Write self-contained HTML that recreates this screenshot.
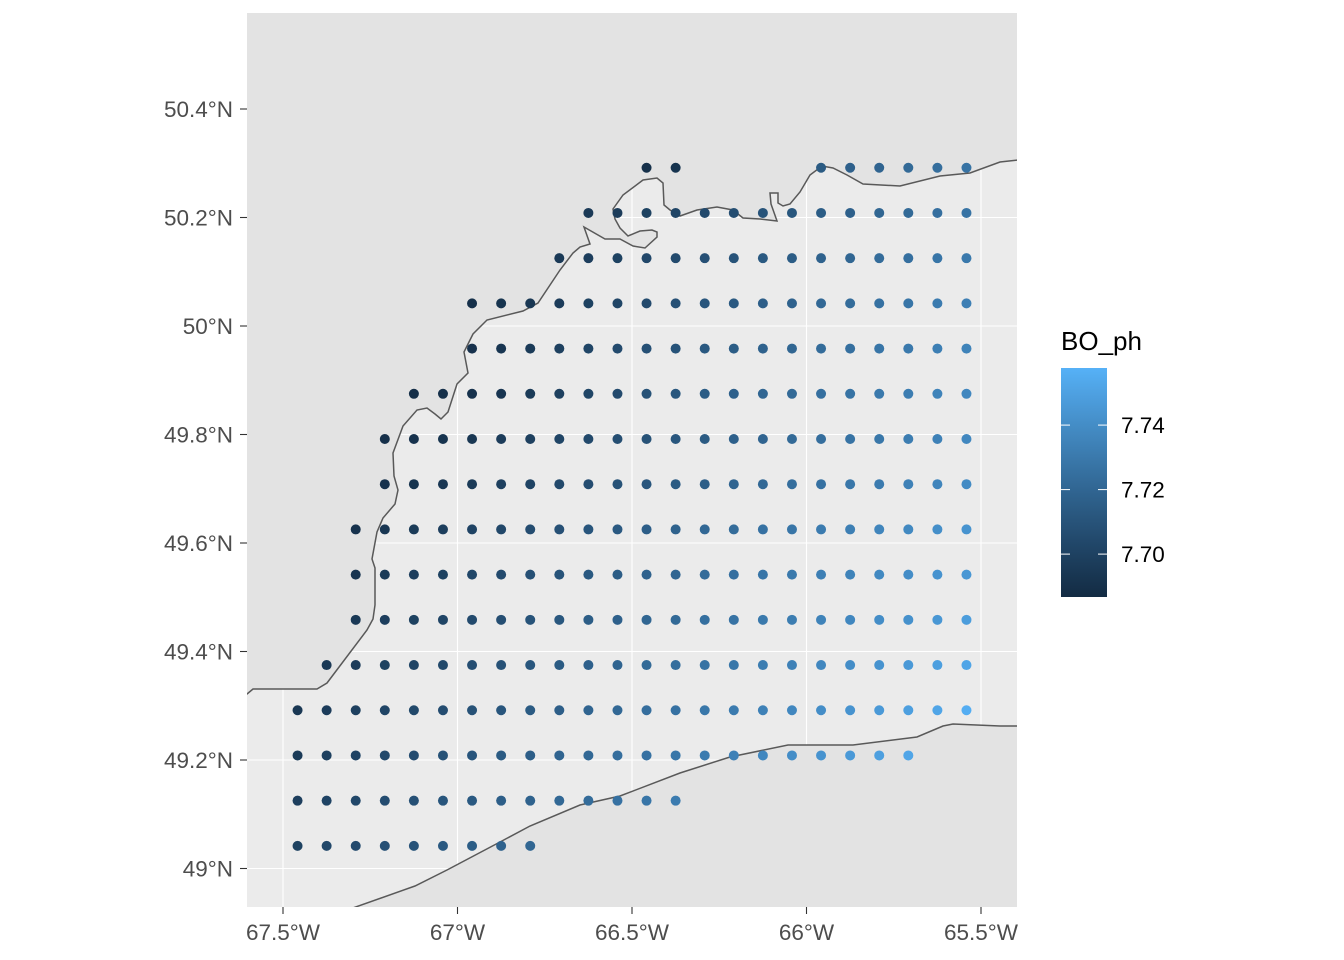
<!DOCTYPE html>
<html><head><meta charset="utf-8">
<style>
body{margin:0;background:#fff;}
svg{display:block;font-family:"Liberation Sans",Arial,sans-serif;}
</style></head>
<body>
<svg id="chart" width="1344" height="960">
  <defs>
    <clipPath id="pclip"><rect x="247" y="13" width="770" height="894"/></clipPath>
    <linearGradient id="lg" x1="0" y1="1" x2="0" y2="0"></linearGradient>
  </defs>
  <rect x="247" y="13" width="770" height="894" fill="#EBEBEB"/>
  <g id="grid"></g>
  <g clip-path="url(#pclip)">
    <path id="northland" fill="#E3E3E3" stroke="#595959" stroke-width="1.5"/>
    <path id="southland" fill="#E3E3E3" stroke="#595959" stroke-width="1.5"/>
  </g>
  <g id="points"></g>
  <g id="xaxis"></g>
  <g id="yaxis"></g>
  <g id="legend">
    <text x="1061" y="350" font-size="26" fill="#000">BO_ph</text>
    <rect x="1061" y="368" width="46" height="229" fill="url(#lg)"/>
  </g>
</svg>
<script>
const xTicks = [-67.5, -67, -66.5, -66, -65.5];
const xTickLabels = ["67.5°W","67°W","66.5°W","66°W","65.5°W"];
const yTicks = [50.4, 50.2, 50.0, 49.8, 49.6, 49.4, 49.2, 49.0];
const yTickLabels = ["50.4°N","50.2°N","50°N","49.8°N","49.6°N","49.4°N","49.2°N","49°N"];
const legendTicks = [7.70, 7.72, 7.74];
const legendTickLabels = ["7.70","7.72","7.74"];
const colorLimits = [7.6867, 7.7577];
const lonStart = -67.4583, lonStep = 1/12;
const latStart = 50.2917, latStep = 1/12;
// row index -> first column index, values per column
const rowStarts = [12,10,9,6,6,4,3,3,2,2,2,1,0,0,0,0];
const rowValues = [
 [7.690,7.692,null,null,null,null,7.714,7.717,7.719,7.722,7.724,7.727],
 [7.695,7.697,7.700,7.702,7.705,7.707,7.710,7.712,7.715,7.717,7.720,7.722,7.725,7.727],
 [7.695,7.698,7.700,7.703,7.705,7.708,7.710,7.713,7.715,7.718,7.720,7.723,7.725,7.728,7.730],
 [7.690,7.692,7.694,7.697,7.700,7.702,7.705,7.708,7.711,7.713,7.716,7.718,7.721,7.723,7.726,7.728,7.731,7.733],
 [7.691,7.693,7.696,7.699,7.702,7.705,7.708,7.710,7.713,7.715,7.718,7.720,7.723,7.725,7.728,7.730,7.733,7.735],
 [7.689,7.690,7.691,7.693,7.696,7.699,7.702,7.705,7.709,7.712,7.715,7.717,7.720,7.722,7.725,7.727,7.730,7.732,7.735,7.737],
 [7.690,7.691,7.692,7.694,7.697,7.699,7.702,7.704,7.707,7.709,7.712,7.714,7.717,7.719,7.722,7.724,7.727,7.729,7.732,7.734,7.737],
 [7.691,7.692,7.694,7.696,7.699,7.701,7.704,7.706,7.709,7.711,7.714,7.716,7.719,7.721,7.724,7.726,7.729,7.731,7.734,7.736,7.739],
 [7.691,7.694,7.696,7.698,7.701,7.703,7.706,7.708,7.711,7.713,7.716,7.718,7.721,7.723,7.726,7.728,7.731,7.733,7.736,7.738,7.741,7.743],
 [7.693,7.696,7.698,7.700,7.703,7.705,7.708,7.710,7.713,7.715,7.718,7.720,7.723,7.725,7.728,7.730,7.733,7.735,7.738,7.740,7.743,7.745],
 [7.695,7.698,7.700,7.702,7.705,7.707,7.710,7.712,7.715,7.717,7.720,7.722,7.725,7.727,7.730,7.732,7.735,7.737,7.740,7.742,7.745,7.748],
 [7.695,7.697,7.700,7.702,7.704,7.707,7.709,7.712,7.714,7.717,7.719,7.722,7.724,7.727,7.729,7.732,7.734,7.737,7.740,7.743,7.746,7.749,7.752],
 [7.694,7.697,7.699,7.702,7.704,7.706,7.709,7.711,7.714,7.716,7.719,7.721,7.724,7.726,7.729,7.731,7.734,7.737,7.740,7.743,7.746,7.749,7.752,7.756],
 [7.696,7.699,7.701,7.704,7.706,7.709,7.711,7.714,7.716,7.719,7.721,7.724,7.726,7.729,7.731,7.734,7.737,7.740,7.743,7.746,7.749,7.752],
 [7.698,7.701,7.703,7.706,7.708,7.711,7.713,7.716,7.718,7.721,7.723,7.726,7.728,7.731],
 [7.700,7.703,7.705,7.708,7.710,7.713,7.715,7.718,7.720]
];
const NS="http://www.w3.org/2000/svg";
const X = lon => 283 + (lon + 67.5) * 349;
const Y = lat => 109 + (50.4 - lat) * 542.5;
function mk(tag, attrs, parent){const e=document.createElementNS(NS,tag);for(const k in attrs)e.setAttribute(k,attrs[k]);parent.appendChild(e);return e;}
function hex2rgb(h){return [1,3,5].map(i=>parseInt(h.substr(i,2),16)/255);}
function lin(c){return c<=0.04045?c/12.92:Math.pow((c+0.055)/1.055,2.4);}
function unlin(c){return c<=0.0031308?12.92*c:1.055*Math.pow(c,1/2.4)-0.055;}
function rgb2lab(r){const [R,G,B]=r.map(lin);let x=(R*0.4124+G*0.3576+B*0.1805)/0.95047,y=R*0.2126+G*0.7152+B*0.0722,z=(R*0.0193+G*0.1192+B*0.9505)/1.08883;const f=t=>t>0.008856?Math.cbrt(t):7.787*t+16/116;x=f(x);y=f(y);z=f(z);return [116*y-16,500*(x-y),200*(y-z)];}
function lab2hex(l){let y=(l[0]+16)/116,x=l[1]/500+y,z=y-l[2]/200;const fi=t=>t*t*t>0.008856?t*t*t:(t-16/116)/7.787;x=fi(x)*0.95047;y=fi(y);z=fi(z)*1.08883;let r=x*3.2406+y*-1.5372+z*-0.4986,g=x*-0.9689+y*1.8758+z*0.0415,b=x*0.0557+y*-0.2040+z*1.0570;return "#"+[r,g,b].map(c=>{c=Math.round(Math.max(0,Math.min(1,unlin(c)))*255);return c.toString(16).padStart(2,"0");}).join("");}
const lowLab=rgb2lab(hex2rgb("#132B43")), highLab=rgb2lab(hex2rgb("#56B1F7"));
function col(v){let t=(v-colorLimits[0])/(colorLimits[1]-colorLimits[0]);t=Math.max(0,Math.min(1,t));return lab2hex(lowLab.map((a,i)=>a+(highLab[i]-a)*t));}
const grid=document.getElementById("grid");
xTicks.forEach(v=>{const l=mk("line",{x1:X(v),x2:X(v),y1:13,y2:907,stroke:"#fff","stroke-width":1.1},grid);

});
yTicks.forEach(v=>{const l=mk("line",{x1:247,x2:1017,y1:Y(v),y2:Y(v),stroke:"#fff","stroke-width":1.1},grid);

});
const north=[[247,694],[253,689],[317,689],[327,683],[367,630],[373,619],[375,605],[375,568],[372,559],[377,532],[383,518],[395,504],[398,490],[394,476],[393,453],[403,426],[417,410],[427,408],[435,414],[441,419],[448,412],[457,384],[468,373],[464,352],[473,334],[487,320],[523,311],[538,303],[560,270],[573,253],[580,247],[590,244],[584,227],[605,239],[620,239],[633,246],[645,248],[657,237],[657,232],[652,230],[640,231],[628,236],[620,228],[615,219],[613,209],[623,195],[643,180],[657,178],[663,183],[664,205],[670,210],[680,216],[697,210],[717,207],[733,210],[743,218],[760,219],[777,221],[771,204],[770,193],[778,193],[778,203],[783,206],[790,204],[800,192],[810,175],[822,166],[833,168],[847,175],[863,184],[900,186],[940,176],[970,173],[1000,162],[1018,160]];
const south=[[350,909],[415,886],[447,870],[500,842],[530,826],[580,805],[620,796],[680,773],[730,757],[788,745],[853,745],[917,737],[943,726],[953,724],[1000,726],[1018,726]];
document.getElementById("northland").setAttribute("d","M"+north.map(p=>p.join(",")).join("L")+"L1030,160L1030,0L230,0L230,694Z");
document.getElementById("southland").setAttribute("d","M"+south.map(p=>p.join(",")).join("L")+"L1030,726L1030,930L350,930Z");
const pts=document.getElementById("points");
rowValues.forEach((row,j)=>{const lat=latStart-j*latStep;row.forEach((v,k)=>{if(v===null)return;const lon=lonStart+(rowStarts[j]+k)*lonStep;
const c=mk("circle",{cx:X(lon),cy:Y(lat),r:5,fill:col(v)},pts);

});});
const xa=document.getElementById("xaxis");
xTicks.forEach((v,i)=>{const t=mk("line",{x1:X(v),x2:X(v),y1:907,y2:914,stroke:"#333","stroke-width":1.1},xa);


const tx=mk("text",{x:X(v),y:940,"text-anchor":"middle","font-size":22.5,fill:"#4D4D4D"},xa);tx.textContent=xTickLabels[i];

});
const ya=document.getElementById("yaxis");
yTicks.forEach((v,i)=>{const t=mk("line",{x1:240,x2:247,y1:Y(v),y2:Y(v),stroke:"#333","stroke-width":1.1},ya);


const tx=mk("text",{x:233,y:Y(v)+8,"text-anchor":"end","font-size":22.5,fill:"#4D4D4D"},ya);tx.textContent=yTickLabels[i];

});
const lg=document.getElementById("lg");
for(let s=0;s<=20;s++){const t=s/20;mk("stop",{offset:t,"stop-color":lab2hex(lowLab.map((a,i)=>a+(highLab[i]-a)*t))},lg);}
const leg=document.getElementById("legend");
const LY=v=>597-(v-colorLimits[0])/(colorLimits[1]-colorLimits[0])*229;
legendTicks.forEach((v,i)=>{
const a=mk("line",{x1:1061,x2:1070,y1:LY(v),y2:LY(v),stroke:"#fff","stroke-width":1},leg);


const b=mk("line",{x1:1098,x2:1107,y1:LY(v),y2:LY(v),stroke:"#fff","stroke-width":1},leg);


const tx=mk("text",{x:1121,y:LY(v)+8,"font-size":22.5,fill:"#000"},leg);tx.textContent=legendTickLabels[i];

});
</script>
</body></html>
